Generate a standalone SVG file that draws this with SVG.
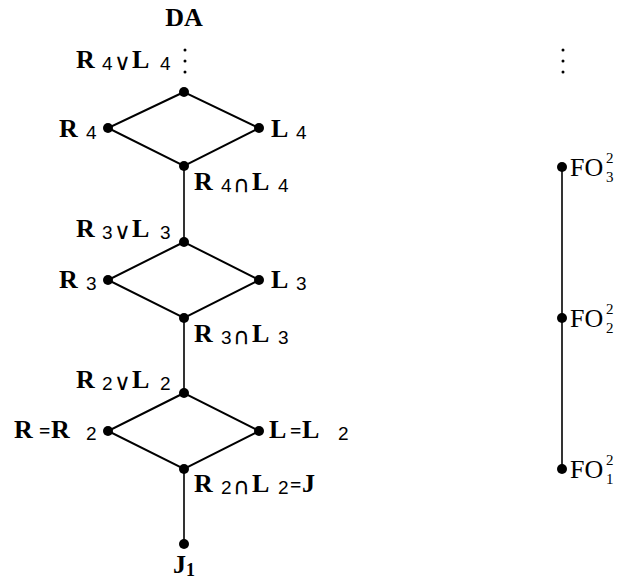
<svg xmlns="http://www.w3.org/2000/svg" width="619" height="586" viewBox="0 0 619 586">
<style>
text{font-family:"Liberation Serif","Times New Roman",serif;fill:#000}
.b{font-weight:bold;font-size:26px}
.s{font-family:"Liberation Sans",Arial,sans-serif;font-size:19px;font-weight:normal}
.op{font-family:"DejaVu Sans",sans-serif;font-size:23px;font-weight:normal}
.eq{font-size:20px}
.fo{font-size:26px}
.sup{font-size:15px}
.e{stroke:#000;stroke-width:2;fill:none}
.v{stroke:#000;stroke-width:1.6;fill:none}
.d{fill:#000}
</style>
<rect width="619" height="586" fill="#fff"/>
<g id="connectors">
<path class="e" d="M184,92 L108,128 L184,166 L259,128 Z"/>
<path class="e" d="M184,242 L108,280 L184,318 L259,280 Z"/>
<path class="e" d="M184,393 L108,431 L184,469 L259,431 Z"/>
<path class="v" d="M184,166 V242 M184,318 V393 M184,469 V544"/>
<path class="v" d="M562,167 V469"/>
</g>
<g id="dots-left">
<circle class="d" cx="185" cy="50" r="1.5"/><circle class="d" cx="185" cy="61" r="1.5"/><circle class="d" cx="185" cy="72" r="1.5"/>
</g>
<g id="dots-right">
<circle class="d" cx="563" cy="50" r="1.5"/><circle class="d" cx="563" cy="61" r="1.5"/><circle class="d" cx="563" cy="72" r="1.5"/>
</g>
<g id="DA"><text class="b" x="184" y="26" text-anchor="middle">DA</text></g>
<g id="n4top"><circle class="d" cx="184" cy="92" r="5"/><text class="b" x="76" y="68">R<tspan class="s" x="102" y="70">4</tspan><tspan class="op" x="114">∨</tspan><tspan x="132" y="68">L</tspan><tspan class="s" x="160" y="70">4</tspan></text></g>
<g id="n4left"><circle class="d" cx="108" cy="128" r="5"/><text class="b" x="59" y="137">R<tspan class="s" x="86" y="139">4</tspan></text></g>
<g id="n4right"><circle class="d" cx="259" cy="128" r="5"/><text class="b" x="271" y="137">L<tspan class="s" x="296" y="139">4</tspan></text></g>
<g id="n4bot"><circle class="d" cx="184" cy="166" r="5"/><text class="b" x="194" y="190">R<tspan class="s" x="221" y="192">4</tspan><tspan class="op" x="233">∩</tspan><tspan x="252" y="190">L</tspan><tspan class="s" x="278" y="192">4</tspan></text></g>
<g id="n3top"><circle class="d" cx="184" cy="242" r="5"/><text class="b" x="76" y="237">R<tspan class="s" x="102" y="239">3</tspan><tspan class="op" x="114">∨</tspan><tspan x="132" y="237">L</tspan><tspan class="s" x="160" y="239">3</tspan></text></g>
<g id="n3left"><circle class="d" cx="108" cy="280" r="5"/><text class="b" x="59" y="288">R<tspan class="s" x="86" y="290">3</tspan></text></g>
<g id="n3right"><circle class="d" cx="259" cy="280" r="5"/><text class="b" x="271" y="288">L<tspan class="s" x="296" y="290">3</tspan></text></g>
<g id="n3bot"><circle class="d" cx="184" cy="318" r="5"/><text class="b" x="194" y="342">R<tspan class="s" x="221" y="344">3</tspan><tspan class="op" x="233">∩</tspan><tspan x="252" y="342">L</tspan><tspan class="s" x="278" y="344">3</tspan></text></g>
<g id="n2top"><circle class="d" cx="184" cy="393" r="5"/><text class="b" x="76" y="388">R<tspan class="s" x="102" y="390">2</tspan><tspan class="op" x="114">∨</tspan><tspan x="132" y="388">L</tspan><tspan class="s" x="160" y="390">2</tspan></text></g>
<g id="n2left"><circle class="d" cx="108" cy="431" r="5"/><text class="b" x="14" y="438">R<tspan class="eq" x="39">=</tspan><tspan x="51">R</tspan><tspan class="s" x="86" y="440">2</tspan></text></g>
<g id="n2right"><circle class="d" cx="259" cy="431" r="5"/><text class="b" x="269" y="438">L<tspan class="eq" x="290">=</tspan><tspan x="302">L</tspan><tspan class="s" x="338" y="440">2</tspan></text></g>
<g id="n2bot"><circle class="d" cx="184" cy="469" r="5"/><text class="b" x="194" y="492">R<tspan class="s" x="221" y="494">2</tspan><tspan class="op" x="233">∩</tspan><tspan x="252" y="492">L</tspan><tspan class="s" x="278" y="494">2</tspan><tspan class="eq" x="290" y="492">=</tspan><tspan x="302">J</tspan></text></g>
<g id="J1"><circle class="d" cx="184" cy="544" r="5"/><text class="b" x="184" y="573" text-anchor="middle">J<tspan font-size="18" dy="3">1</tspan></text></g>
<g id="FO3"><circle class="d" cx="562" cy="167" r="5"/><text class="fo" x="570" y="176">FO</text><text class="sup" x="606" y="163">2</text><text class="sup" x="606" y="182">3</text></g>
<g id="FO2"><circle class="d" cx="562" cy="318" r="5"/><text class="fo" x="570" y="327">FO</text><text class="sup" x="606" y="314">2</text><text class="sup" x="606" y="333">2</text></g>
<g id="FO1"><circle class="d" cx="562" cy="469" r="5"/><text class="fo" x="570" y="478">FO</text><text class="sup" x="606" y="465">2</text><text class="sup" x="606" y="484">1</text></g>
</svg>
